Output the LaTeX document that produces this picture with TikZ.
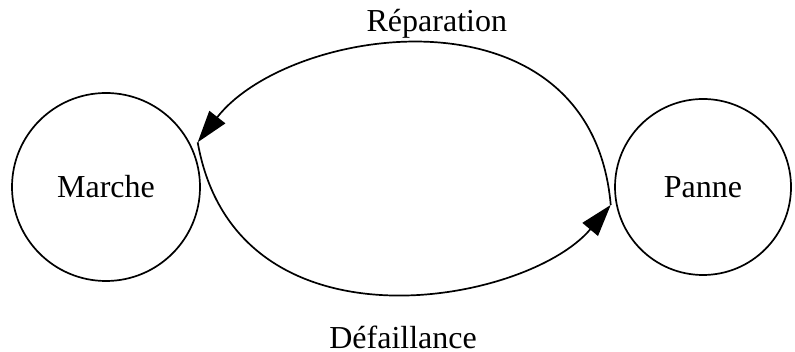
\documentclass[tikz,border=0pt]{standalone}
\usepackage{fontspec}
\setmainfont{Liberation Serif}
\usetikzlibrary{arrows.meta}
\begin{document}
\begin{tikzpicture}[
    x=0.5pt, y=0.5pt,
    >={Triangle[length=16pt,width=10pt]},
    etat/.style={
        draw,
        circle,
        line width=0.85pt,
        inner sep=0pt,
        font=\fontsize{16}{19}\selectfont
    },
    arc/.style={->, line width=0.85pt},
    lbl/.style={font=\fontsize{16}{19}\selectfont}
]
    \useasboundingbox (0,0) rectangle (795,352);

    \node[etat, minimum size=94pt, outer sep=4pt] (marche) at (106,165) {Marche};
    \node[etat, minimum size=88pt, outer sep=3pt] (panne) at (703,165) {Panne};

    \draw[arc] (panne.191) .. controls +(95:225) and +(52:150) .. (marche.26)
        node[lbl, above, pos=0.49] {Réparation};
    \draw[arc] (marche.26) .. controls +(-80:220) and +(230:130) .. (panne.191)
        node[lbl, below=13pt, pos=0.53] {Défaillance};
\end{tikzpicture}
\end{document}
